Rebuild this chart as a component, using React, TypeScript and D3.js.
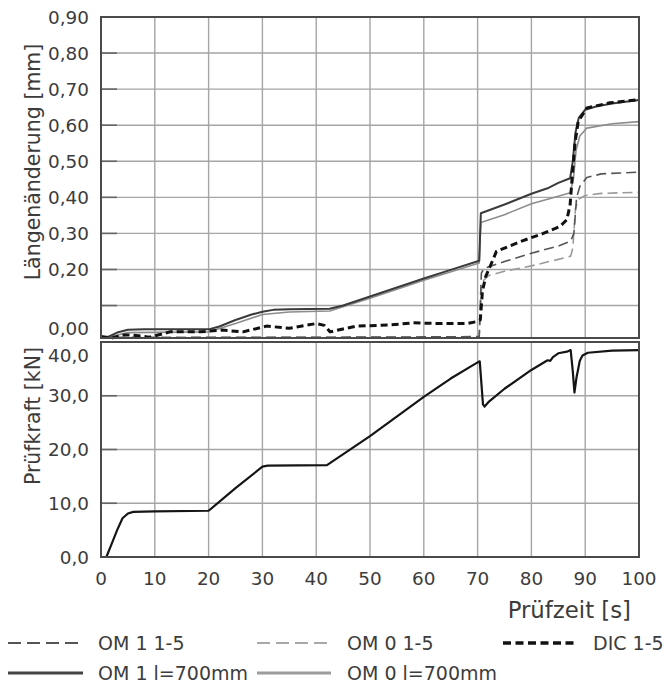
import React from "react";
import * as d3 from "d3";

type P = [number, number];

const timeTicks = [0, 10, 20, 30, 40, 50, 60, 70, 80, 90, 100];
const lengthTicks = [0.9, 0.8, 0.7, 0.6, 0.5, 0.4, 0.3, 0.2, 0.0];
const lengthGrid = [0.1, 0.2, 0.3, 0.4, 0.5, 0.6, 0.7, 0.8];
const forceTicks = [40, 30, 20, 10, 0];
const forceGrid = [10, 20, 30];

const om1_700: P[] = [
  [0, 0.012], [1, 0.011], [3, 0.025], [5, 0.033], [8, 0.034], [20, 0.034], [22, 0.042],
  [25, 0.06], [28, 0.075], [30, 0.083], [32, 0.088], [35, 0.09], [42.5, 0.091], [45, 0.1],
  [50, 0.125], [55, 0.15], [60, 0.175], [65, 0.199], [70.3, 0.224], [70.6, 0.356],
  [75, 0.38], [80, 0.41], [83, 0.425], [85, 0.44], [87.2, 0.453], [87.7, 0.5], [88.2, 0.58],
  [88.8, 0.62], [90, 0.643], [92, 0.652], [95, 0.66], [100, 0.67],
];
const om0_700: P[] = [
  [0, 0.01], [3, 0.018], [5, 0.025], [20, 0.027], [25, 0.05], [30, 0.075], [35, 0.082],
  [42.5, 0.085], [50, 0.12], [60, 0.17], [70.3, 0.218], [70.6, 0.33], [75, 0.352],
  [80, 0.382], [85, 0.403], [87.2, 0.413], [87.8, 0.45], [88.3, 0.53], [89, 0.57],
  [90.3, 0.592], [95, 0.604], [100, 0.61],
];
const om1_15: P[] = [
  [0, 0.012], [10, 0.011], [20, 0.012], [40, 0.012], [60, 0.013], [70.3, 0.014],
  [70.7, 0.19], [71.2, 0.203], [75, 0.222], [80, 0.245], [85, 0.265], [87.3, 0.279],
  [87.9, 0.3], [88.4, 0.4], [89, 0.43], [90.3, 0.455], [93, 0.465], [100, 0.47],
];
const om0_15: P[] = [
  [0, 0.011], [10, 0.012], [20, 0.011], [40, 0.012], [60, 0.012], [70.3, 0.012],
  [70.8, 0.165], [72, 0.183], [75, 0.195], [80, 0.21], [85, 0.228], [87.3, 0.237],
  [87.7, 0.26], [88.2, 0.37], [88.8, 0.395], [90, 0.405], [93, 0.411], [100, 0.414],
];
const dic_15: P[] = [
  [0, 0.014], [1, 0.012], [2, 0.01], [4, 0.018], [6, 0.018], [9, 0.012], [12.8, 0.027],
  [18.5, 0.027], [22.5, 0.032], [26.4, 0.027], [30.8, 0.043], [35, 0.037], [40, 0.05],
  [41.5, 0.045], [42.6, 0.027], [45, 0.035], [47.5, 0.043], [53.7, 0.046], [58, 0.052],
  [63, 0.05], [68, 0.05], [69.7, 0.055], [70.5, 0.06], [70.9, 0.14], [71.5, 0.18],
  [72.6, 0.218], [73.5, 0.25], [77.9, 0.277], [82.2, 0.3], [85.3, 0.319], [86.6, 0.338],
  [87.2, 0.38], [87.6, 0.46], [88.1, 0.55], [88.7, 0.61], [90.3, 0.648], [94.6, 0.662],
  [100, 0.671],
];
const force: P[] = [
  [1, 0], [2, 2.5], [3, 5], [4, 7.2], [5, 8.1], [6, 8.4], [10, 8.5], [20, 8.6], [25, 12.8],
  [30, 16.8], [31, 17], [42, 17.1], [50, 22.5], [60, 29.8], [65, 33.2], [70, 36.2],
  [70.4, 36.4], [71, 28.4], [71.3, 28.0], [72, 28.8], [75, 31.3], [80, 34.8], [83, 36.6],
  [83.5, 36.5], [84, 37.2], [85, 37.9], [86.6, 38.2], [87.3, 38.5], [87.7, 34.5],
  [88, 30.6], [88.4, 33.5], [89, 36.5], [89.5, 37.5], [90.5, 38], [95, 38.4], [100, 38.5],
];

const FONT = "'DejaVu Sans', sans-serif";
const TXT = "#3c3c3c";

export default function App() {
  const x = d3.scaleLinear().domain([0, 100]).range([101, 639]);
  const yTop = d3.scaleLinear().domain([0.01, 0.9]).range([338, 17]);
  const yBot = d3.scaleLinear().domain([0, 40]).range([557, 342]);
  const lineTop = d3.line<P>().x((d) => x(d[0])).y((d) => yTop(d[1]));
  const lineBot = d3.line<P>().x((d) => x(d[0])).y((d) => yBot(d[1]));

  const fmt2 = (v: number) => v.toFixed(2).replace(".", ",");
  const fmt1 = (v: number) => v.toFixed(1).replace(".", ",");

  const series = [
    { data: om0_15, stroke: "#9a9a9a", w: 1.6, dash: "10,5" },
    { data: om1_15, stroke: "#555", w: 1.6, dash: "10,5" },
    { data: om0_700, stroke: "#8c8c8c", w: 1.6, dash: null },
    { data: om1_700, stroke: "#3a3a3a", w: 2, dash: null },
    { data: dic_15, stroke: "#111", w: 3, dash: "7,4" },
  ];

  const legend = [
    { label: "OM 1 1-5", x0: 8, x1: 83, tx: 98, y: 643, stroke: "#555", w: 2.2, dash: "13,6" },
    { label: "OM 0 1-5", x0: 257, x1: 331, tx: 347, y: 643, stroke: "#a8a8a8", w: 2.2, dash: "13,6" },
    { label: "DIC 1-5", x0: 503, x1: 577, tx: 593, y: 643, stroke: "#111", w: 3.5, dash: "8,4.5" },
    { label: "OM 1 l=700mm", x0: 8, x1: 83, tx: 98, y: 673, stroke: "#444", w: 3, dash: null },
    { label: "OM 0 l=700mm", x0: 257, x1: 331, tx: 347, y: 673, stroke: "#9c9c9c", w: 3, dash: null },
  ];

  return (
    <svg
      width={670}
      height={687}
      style={{ position: "fixed", left: 0, top: 0, background: "#fff" }}
      fontFamily={FONT}
    >
      <rect x={0} y={0} width={670} height={687} fill="#fff" />
      {/* grid top */}
      {lengthGrid.map((v) => (
        <g key={"gt" + v}>
          <line x1={x(0)} x2={x(100)} y1={yTop(v)} y2={yTop(v)} stroke="#a5a5a5" strokeWidth={1.4} />
          <line x1={x(0)} x2={x(0) + 16} y1={yTop(v)} y2={yTop(v)} stroke="#666" strokeWidth={1.6} />
        </g>
      ))}
      {timeTicks.slice(1, -1).map((t) => (
        <line key={"vt" + t} x1={x(t)} x2={x(t)} y1={yTop(0.9)} y2={yTop(0.01)} stroke="#a5a5a5" strokeWidth={1.4} />
      ))}
      {/* grid bottom */}
      {forceGrid.map((v) => (
        <g key={"gb" + v}>
          <line x1={x(0)} x2={x(100)} y1={yBot(v)} y2={yBot(v)} stroke="#a5a5a5" strokeWidth={1.4} />
          <line x1={x(0)} x2={x(0) + 16} y1={yBot(v)} y2={yBot(v)} stroke="#666" strokeWidth={1.6} />
        </g>
      ))}
      {timeTicks.slice(1, -1).map((t) => (
        <line key={"vb" + t} x1={x(t)} x2={x(t)} y1={yBot(40)} y2={yBot(0)} stroke="#a5a5a5" strokeWidth={1.4} />
      ))}

      {/* series top */}
      {series.map((s, i) => (
        <path
          key={"s" + i}
          d={lineTop(s.data) || ""}
          fill="none"
          stroke={s.stroke}
          strokeWidth={s.w}
          strokeDasharray={s.dash || undefined}
          strokeLinejoin="round"
        />
      ))}
      {/* force */}
      <path d={lineBot(force) || ""} fill="none" stroke="#151515" strokeWidth={2.2} strokeLinejoin="round" />

      {/* frames */}
      <rect x={x(0)} y={yTop(0.9)} width={x(100) - x(0)} height={yTop(0.01) - yTop(0.9)} fill="none" stroke="#4a4a4a" strokeWidth={2} />
      <rect x={x(0)} y={yBot(40)} width={x(100) - x(0)} height={yBot(0) - yBot(40)} fill="none" stroke="#4a4a4a" strokeWidth={2} />

      {/* y tick labels top */}
      {lengthTicks.map((v) => (
        <text
          key={"lt" + v}
          x={89}
          y={v === 0 ? yTop(0.01) - 10 : yTop(v)}
          textAnchor="end"
          dominantBaseline="central"
          fontSize={18.4}
          fill={TXT}
        >
          {fmt2(v)}
        </text>
      ))}
      {forceTicks.map((v) => (
        <text
          key={"ft" + v}
          x={89}
          y={v === 40 ? yBot(40) + 13 : yBot(v)}
          textAnchor="end"
          dominantBaseline="central"
          fontSize={18.4}
          fill={TXT}
        >
          {fmt1(v)}
        </text>
      ))}
      {timeTicks.map((t) => (
        <text key={"xt" + t} x={x(t)} y={578} textAnchor="middle" dominantBaseline="central" fontSize={18.4} fill={TXT}>
          {t}
        </text>
      ))}

      {/* axis titles */}
      <text transform="translate(33,162) rotate(-90)" textAnchor="middle" dominantBaseline="central" fontSize={20.5} fill={TXT}>
        Längenänderung [mm]
      </text>
      <text transform="translate(33,416) rotate(-90)" textAnchor="middle" dominantBaseline="central" fontSize={20.5} fill={TXT}>
        Prüfkraft [kN]
      </text>
      <text x={631} y={610} textAnchor="end" dominantBaseline="central" fontSize={22.8} fill={TXT}>
        Prüfzeit [s]
      </text>

      {/* legend */}
      {legend.map((l) => (
        <g key={l.label}>
          <line x1={l.x0} x2={l.x1} y1={l.y} y2={l.y} stroke={l.stroke} strokeWidth={l.w} strokeDasharray={l.dash || undefined} />
          <text x={l.tx} y={l.y} dominantBaseline="central" fontSize={19} fill={TXT}>
            {l.label}
          </text>
        </g>
      ))}
    </svg>
  );
}
